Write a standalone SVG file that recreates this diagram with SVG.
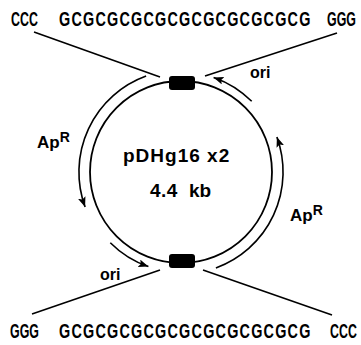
<svg xmlns="http://www.w3.org/2000/svg" width="361" height="345" viewBox="0 0 361 345">
<style>
.seq{font-family:"Liberation Sans",Arial,sans-serif;font-weight:bold;font-size:20px;fill:#000}
.gc{letter-spacing:1.7px}
.lbl{font-family:"Liberation Sans",Arial,sans-serif;font-weight:bold;fill:#000}
.ln{stroke:#000;stroke-width:1.6;fill:none}
.arc{stroke:#000;stroke-width:1.6;fill:none;marker-end:url(#ah)}
</style>
<defs>
<marker id="ah" markerUnits="userSpaceOnUse" markerWidth="12" markerHeight="10" refX="10" refY="4" orient="auto">
<path d="M0,0 L10,4 L0,8 L2,4 z" fill="#000"/>
</marker>
</defs>
<rect width="361" height="345" fill="#fff"/>
<g id="top-sequence">
<text class="seq" transform="translate(11,26) scale(0.62,1)">CCC</text>
<text class="seq gc" transform="translate(59,26) scale(0.72,1)">GCGCGCGCGCGCGCGCGCGCG</text>
<text class="seq" transform="translate(327,26) scale(0.62,1)">GGG</text>
</g>
<g id="bottom-sequence">
<text class="seq" transform="translate(10,338) scale(0.62,1)">GGG</text>
<text class="seq gc" transform="translate(59,338) scale(0.72,1)">GCGCGCGCGCGCGCGCGCGCG</text>
<text class="seq" transform="translate(330,338) scale(0.62,1)">CCC</text>
</g>
<g id="connectors">
<line class="ln" x1="34" y1="32" x2="160" y2="77"/>
<line class="ln" x1="337" y1="33" x2="205" y2="76"/>
<line class="ln" x1="32" y1="314" x2="160" y2="270"/>
<line class="ln" x1="203" y1="270" x2="332" y2="315"/>
</g>
<g id="plasmid">
<circle cx="181" cy="172" r="91" fill="none" stroke="#000" stroke-width="1.8"/>
<rect x="169" y="76" width="26" height="14" rx="3" fill="#000"/>
<rect x="169" y="254" width="26" height="14" rx="3" fill="#000"/>
<text class="lbl" x="123" y="162" font-size="19" letter-spacing="1">pDHg16 x2</text>
<text class="lbl" x="150" y="197" font-size="19" letter-spacing="0.5">4.4</text>
<text class="lbl" x="189" y="197" font-size="19">kb</text>
</g>
<g id="arrows">
<path class="arc" d="M146.1,76.1 A102,102 0 0 0 85.1,206.9"/>
<path class="arc" d="M110.3,242.7 A100,100 0 0 0 148.4,266.6"/>
<path class="arc" d="M251.7,101.3 A100,100 0 0 0 213.6,77.4"/>
<path class="arc" d="M215.9,267.9 A102,102 0 0 0 276.9,137.1"/>
</g>
<g id="labels">
<text class="lbl" x="37" y="148" font-size="17">Ap<tspan font-size="14" dy="-6">R</tspan></text>
<text class="lbl" x="290" y="221" font-size="17">Ap<tspan font-size="14" dy="-6">R</tspan></text>
<text class="lbl" x="250" y="78" font-size="16">ori</text>
<text class="lbl" x="100" y="280" font-size="16">ori</text>
</g>
</svg>
